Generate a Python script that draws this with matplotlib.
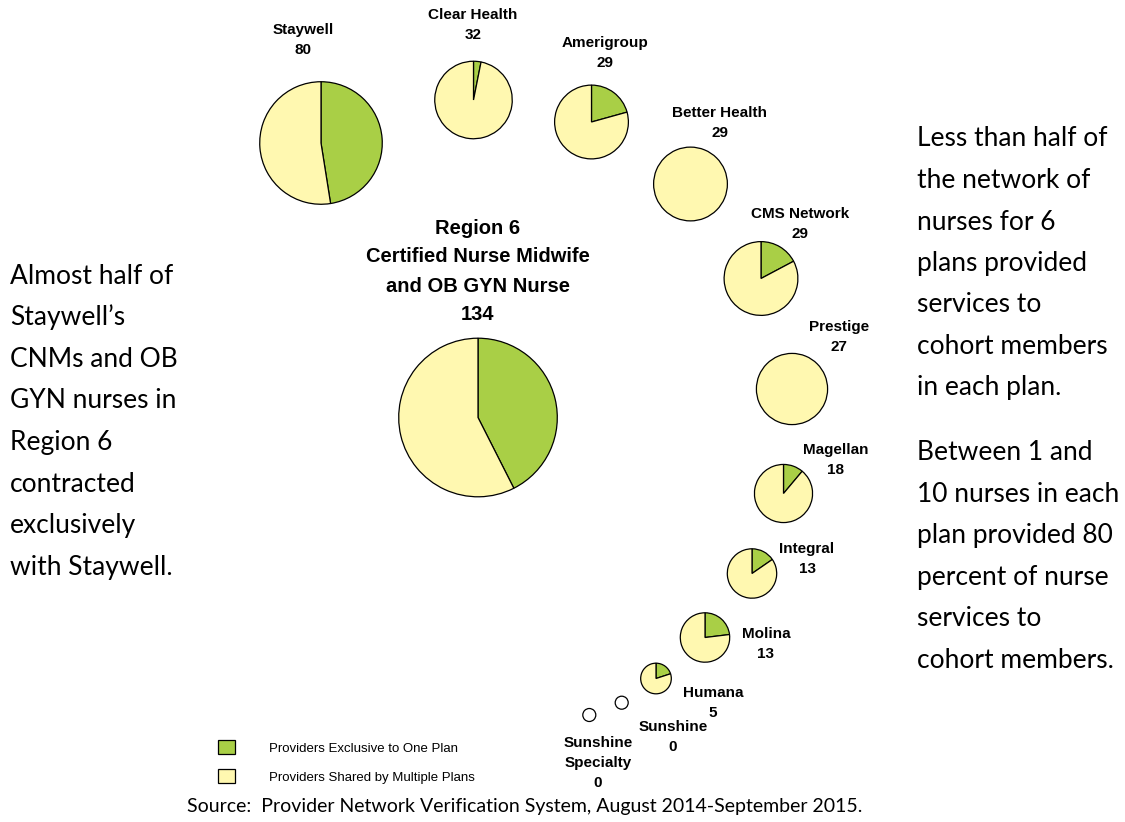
import numpy as np
import matplotlib
matplotlib.use('Agg')
import matplotlib.pyplot as plt
from matplotlib.patches import Circle, Rectangle

# data
plans = ['Staywell', 'Clear Health', 'Amerigroup', 'Better Health', 'CMS Network',
         'Prestige', 'Magellan', 'Integral', 'Molina', 'Humana', 'Sunshine',
         'Sunshine\nSpecialty']
totals = [80, 32, 29, 29, 29, 27, 18, 13, 13, 5, 0, 0]
exclusive = [38, 1, 6, 0, 5, 0, 2, 2, 3, 1, 0, 0]
region_title = 'Region 6\nCertified Nurse Midwife\nand OB GYN Nurse'
region_total = 134
region_exclusive = 57

legend_labels = ['Providers Exclusive to One Plan', 'Providers Shared by Multiple Plans']
left_note = ['Almost half of', 'Staywell\u2019s', 'CNMs and OB', 'GYN nurses in',
             'Region 6', 'contracted', 'exclusively', 'with Staywell.']
right_note1 = ['Less than half of', 'the network of', 'nurses for 6', 'plans provided',
               'services to', 'cohort members', 'in each plan.']
right_note2 = ['Between 1 and', '10 nurses in each', 'plan provided 80',
               'percent of nurse', 'services to', 'cohort members.']
source = 'Source:  Provider Network Verification System, August 2014-September 2015.'

# layout (pixels from top-left)
W, H = 1125, 822
pie_xy = [(321, 143), (473.5, 100), (591.5, 122), (690.5, 184), (761, 278.5),
          (792, 389), (783.5, 493.5), (752, 573.5), (705, 637.5), (656, 678.5),
          (621.7, 702.7), (589.3, 715)]
label_xy = [(303, 30), (473, 15), (605, 43), (720, 113), (800, 214), (839, 327),
            (836, 450), (807, 549), (766, 634), (713, 693), (673, 727), (598, 743)]
main_xy = (478, 417.5)
k = 6.85          # radius = k * sqrt(total)
r_zero = 6.5

green = '#a9cf46'
yellow = '#fff8b0'
narrow = ['Liberation Sans Narrow', 'Liberation Sans', 'DejaVu Sans']
body = ['Lato', 'DejaVu Sans']

fig = plt.figure(figsize=(11.25, 8.22), dpi=100)
ax = fig.add_axes([0, 0, 1, 1])


def draw_pie(cx, cy, total, excl):
    if total == 0:
        ax.add_patch(Circle((cx, H - cy), r_zero, facecolor='white',
                            edgecolor='black', linewidth=0.9))
        return
    vals, cols = [], []
    if excl > 0:
        vals.append(excl)
        cols.append(green)
    vals.append(total - excl)
    cols.append(yellow)
    ax.pie(vals, colors=cols, startangle=90, counterclock=False,
           center=(cx, H - cy), radius=k * np.sqrt(total), frame=True,
           wedgeprops=dict(edgecolor='black', linewidth=0.9))


for (cx, cy), t, e in zip(pie_xy, totals, exclusive):
    draw_pie(cx, cy, t, e)

for (lx, ly), name, t in zip(label_xy, plans, totals):
    lines = name.split('\n') + [str(t)]
    for i, s in enumerate(lines):
        ax.text(lx, H - (ly + i * 20), s, ha='center', va='center',
                family=narrow, weight='bold', fontsize=11)

# region pie
draw_pie(main_xy[0], main_xy[1], region_total, region_exclusive)
for i, s in enumerate(region_title.split('\n') + [str(region_total)]):
    ax.text(478, H - (228 + i * 29), s, ha='center', va='center',
            family=narrow, weight='bold', fontsize=14.5)

# legend
for i, (lab, col) in enumerate(zip(legend_labels, [green, yellow])):
    y0 = 740 + i * 29
    ax.add_patch(Rectangle((218, H - y0 - 14), 17, 14, facecolor=col,
                           edgecolor='black', linewidth=0.9))
    ax.text(269, H - y0 - 9, lab, ha='left', va='center', family=narrow, fontsize=9.5)

# side notes
for i, s in enumerate(left_note):
    ax.text(10, H - (283.5 + i * 41.6), s, ha='left', va='baseline',
            family=body, fontsize=19)
for i, s in enumerate(right_note1):
    ax.text(917, H - (146.5 + i * 41.5), s, ha='left', va='baseline',
            family=body, fontsize=19)
for i, s in enumerate(right_note2):
    ax.text(917, H - (460 + i * 41.5), s, ha='left', va='baseline',
            family=body, fontsize=19)

ax.text(525, H - 806, source, ha='center', va='center', family=body, fontsize=14)

ax.set_xlim(0, W)
ax.set_ylim(0, H)
ax.axis('off')
fig.savefig('out.png', dpi=100, facecolor='white')
